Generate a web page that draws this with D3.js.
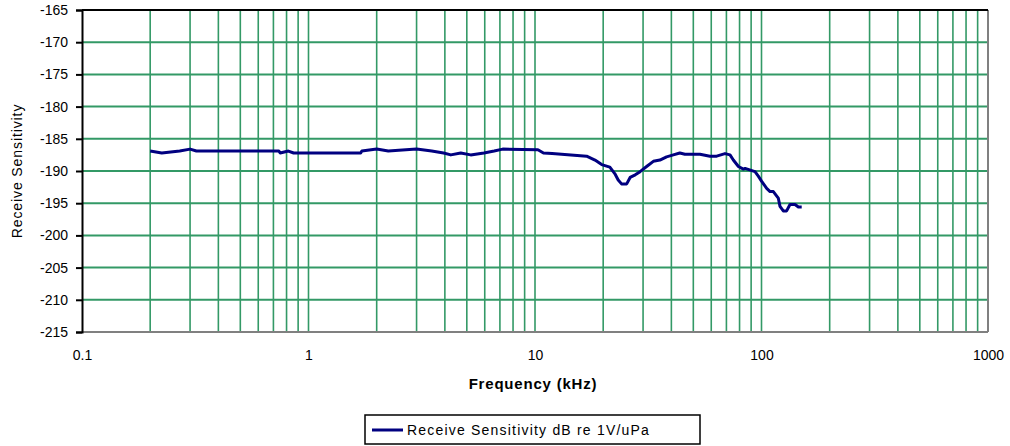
<!DOCTYPE html>
<html>
<head>
<meta charset="utf-8">
<script src="https://cdn.jsdelivr.net/npm/d3@7"></script>
<style>
  body { margin: 0; background: #fff; }
  text { font-family: "Liberation Sans", Arial, sans-serif; }
</style>
</head>
<body>
<script>
// frequency (kHz) and receive sensitivity (dB re 1V/uPa)
var freq = [0.2, 0.225, 0.27, 0.3, 0.32, 0.74, 0.75, 0.815, 0.86, 1.7, 1.72, 2.0, 2.25, 3.0, 3.5, 3.95, 4.25,
            4.7, 5.2, 5.95, 6.6, 7.2, 10.3, 10.9, 11.9, 16.9, 18.4, 19.7, 21.4, 22.5, 23.3,
            24.1, 25.4, 26.3, 27.7, 29.1, 31.1, 33.3, 35.6, 38.1, 40.8, 43.6, 45.9, 48.3,
            53.5, 59.2, 63.4, 69.0, 72.6, 75.1, 79.1, 83.2, 84.6, 93.6, 96.8, 100.2, 105.4,
            109.1, 112.8, 118.6, 120.7, 124.8, 129.1, 133.6, 140.6, 145.5, 150.5];
var sens = [-186.9, -187.2, -186.9, -186.6, -186.9, -186.9, -187.2, -186.9, -187.2, -187.2, -186.9, -186.6, -186.9, -186.6, -186.9, -187.2, -187.5,
            -187.2, -187.5, -187.2, -186.9, -186.6, -186.7, -187.2, -187.3, -187.7, -188.3, -189.0, -189.4, -190.4, -191.4,
            -192.0, -192.0, -191.0, -190.6, -190.1, -189.3, -188.5, -188.3, -187.8, -187.5, -187.2, -187.4, -187.4,
            -187.4, -187.7, -187.7, -187.3, -187.5, -188.3, -189.3, -189.7, -189.6, -190.1, -190.8, -191.6, -192.7,
            -193.2, -193.2, -194.2, -195.5, -196.2, -196.2, -195.2, -195.2, -195.6, -195.6];

var yTicks = [-165, -170, -175, -180, -185, -190, -195, -200, -205, -210, -215];
var xTicks = [0.1, 1, 10, 100, 1000];
var seriesName = "Receive Sensitivity dB re 1V/uPa";

var w = 1010, h = 446;
var pLeft = 82, pRight = 988, pTop = 10, pBottom = 332;

var svg = d3.select("body").append("svg")
    .attr("width", w).attr("height", h);

var x = d3.scaleLog().domain([0.1, 1000]).range([pLeft, pRight]);
var y = d3.scaleLinear().domain([-215, -165]).range([pBottom, pTop]);

// vertical grid: every 1..9 within each decade
var xGrid = [];
[0.1, 1, 10, 100].forEach(function(d) {
  for (var k = 1; k <= 9; k++) xGrid.push(d * k);
});
xGrid = xGrid.filter(function(v) { return v > 0.1 * 1.001; });

svg.append("g").selectAll("line")
  .data(xGrid).enter().append("line")
  .attr("x1", function(d) { return x(d); })
  .attr("x2", function(d) { return x(d); })
  .attr("y1", pTop).attr("y2", pBottom)
  .attr("stroke", "#339966").attr("stroke-width", 1.6);

svg.append("g").selectAll("line")
  .data(yTicks.slice(1, -1)).enter().append("line")
  .attr("x1", pLeft).attr("x2", pRight)
  .attr("y1", function(d) { return y(d); })
  .attr("y2", function(d) { return y(d); })
  .attr("stroke", "#339966").attr("stroke-width", 2);

// plot frame
svg.append("line").attr("x1", pLeft).attr("x2", pRight).attr("y1", pBottom).attr("y2", pBottom)
  .attr("stroke", "#808080").attr("stroke-width", 2);
svg.append("line").attr("x1", pRight).attr("x2", pRight).attr("y1", pTop).attr("y2", pBottom)
  .attr("stroke", "#808080").attr("stroke-width", 2);
svg.append("line").attr("x1", pLeft).attr("x2", pRight).attr("y1", pTop).attr("y2", pTop)
  .attr("stroke", "#000").attr("stroke-width", 2);

// y axis
var yAxis = d3.axisLeft(y).tickValues(yTicks).tickSize(6).tickPadding(8)
  .tickFormat(function(d) { return d; });
var gy = svg.append("g").attr("transform", "translate(" + pLeft + ",0)").call(yAxis);
gy.select(".domain").attr("stroke", "#000").attr("stroke-width", 2);
gy.selectAll(".tick line").attr("stroke", "#000").attr("stroke-width", 2);
gy.selectAll("text").attr("font-size", 14).attr("fill", "#000")
  .attr("font-family", "'Liberation Sans', Arial, sans-serif");

// x axis labels only
var xAxis = d3.axisBottom(x).tickValues(xTicks).tickSize(0).tickPadding(18)
  .tickFormat(function(d) { return d; });
var gx = svg.append("g").attr("transform", "translate(0," + pBottom + ")").call(xAxis);
gx.select(".domain").remove();
gx.selectAll("text").attr("font-size", 14).attr("fill", "#000")
  .attr("font-family", "'Liberation Sans', Arial, sans-serif");

// data line
var line = d3.line()
  .x(function(d, i) { return x(freq[i]); })
  .y(function(d) { return y(d); });
svg.append("path").datum(sens)
  .attr("d", line)
  .attr("fill", "none")
  .attr("stroke", "#000080")
  .attr("stroke-width", 3)
  .attr("stroke-linejoin", "round");

// titles
svg.append("text").attr("x", 533).attr("y", 389)
  .attr("text-anchor", "middle").attr("font-size", 15).attr("font-weight", "bold")
  .attr("letter-spacing", 0.8)
  .text("Frequency (kHz)");
svg.append("text").attr("transform", "translate(22,171) rotate(-90)")
  .attr("text-anchor", "middle").attr("font-size", 14).attr("letter-spacing", 0.9)
  .text("Receive Sensitivity");

// legend
var lg = svg.append("g");
lg.append("rect").attr("x", 365).attr("y", 415).attr("width", 335).attr("height", 29)
  .attr("fill", "#fff").attr("stroke", "#000").attr("stroke-width", 1.5);
lg.append("line").attr("x1", 372).attr("x2", 403).attr("y1", 430).attr("y2", 430)
  .attr("stroke", "#000080").attr("stroke-width", 3);
lg.append("text").attr("x", 407).attr("y", 435).attr("font-size", 14)
  .attr("letter-spacing", 1.2)
  .text(seriesName);
</script>
</body>
</html>
